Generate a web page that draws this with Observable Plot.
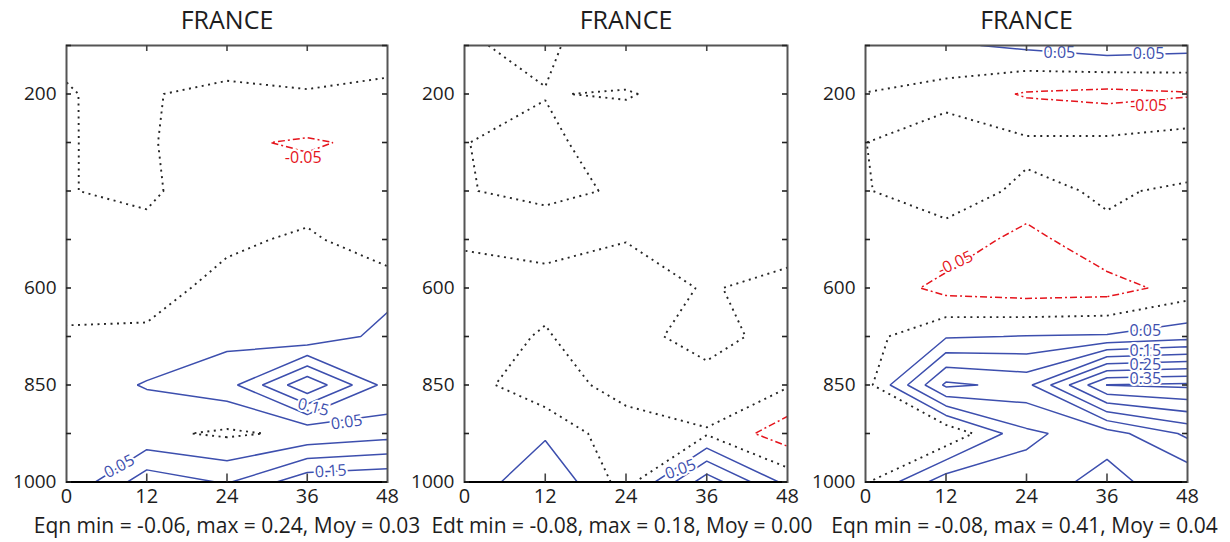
<!DOCTYPE html>
<html>
<head>
<meta charset="utf-8">
<script src="https://cdn.jsdelivr.net/npm/d3@7"></script>
<script src="https://cdn.jsdelivr.net/npm/@observablehq/plot@0.6"></script>
<style>
  html, body { margin: 0; padding: 0; background: #fff; }
  #chart { position: relative; width: 1230px; height: 542px; overflow: hidden; }
  #chart svg { position: absolute; top: 0; overflow: visible; }
</style>
</head>
<body>
<div id="chart"></div>
<script>
// ---------- data ----------
const pressureLevels = [100, 200, 300, 400, 500, 600, 700, 850, 925, 1000];
const labelledLevels = [200, 600, 850, 1000];
const leadHours = [0, 12, 24, 36, 48];
const innerHours = [12, 24, 36];
const panelTitles = ["FRANCE", "FRANCE", "FRANCE"];
const panelCaptions = [
  "Eqn min = -0.06, max = 0.24, Moy = 0.03",
  "Edt min = -0.08, max = 0.18, Moy = 0.00",
  "Eqn min = -0.08, max = 0.41, Moy = 0.04"
];
const positiveLevels = [0.05, 0.10, 0.15, 0.20, 0.25, 0.30, 0.35, 0.40];
const zeroLevel = [0];
const negativeLevels = [-0.05];

// rows: 100 ... 1000 hPa ; columns: 0, 12, 24, 36, 48 h
const fieldEqnLeft = [
  [0.0022, 0.03, 0.04, 0.045, 0.039],
  [-0.0007, 0.004, -0.015, -0.005, -0.02],
  [-0.0013, 0.0072, -0.044, -0.055, -0.0394],
  [-0.0009, 0.005, -0.019, -0.03, -0.01],
  [-0.02, -0.0082, -0.0117, 0.01, -0.037],
  [-0.0335, -0.0245, 0.02, 0.02, 0.03],
  [0.01, 0.01, 0.037, 0.01, 0.07],
  [0.02, 0.054, 0.079, 0.24, 0.08],
  [0.01, 0.01, -0.008, 0.01, 0.03],
  [0.005, 0.13, 0.095, 0.184, 0.195]
];
const fieldEdtMiddle = [
  [-0.0021, 0.005, -0.02, -0.02, -0.02],
  [-0.01, -0.0009, 0.002, -0.0113, -0.02],
  [-0.00045, 0.006, -0.0147, -0.02, -0.02],
  [-0.0012, 0.00587, -0.003, -0.02, -0.02],
  [-0.006, -0.0137, -0.00096, -0.02, -0.0133],
  [0.02, 0.0137, 0.015, -0.0024, 0.0096],
  [0.02, -0.0041, 0.0368, -0.0415, 0.045],
  [0.022, -0.0358, 0.028, 0.0415, 0.005],
  [0.02, 0.042, -0.0372, -0.006, -0.08],
  [0.01, 0.098, -0.023, 0.18, 0.034]
];
const fieldEqnRight = [
  [0.03, 0.0425, 0.06, 0.08, 0.07],
  [-0.001, -0.02, -0.055, -0.065, -0.055],
  [-0.0005, 0.0326, 0.0086, 0.01, 0.0228],
  [-0.0017, 0.017, -0.0073, 0.0036, -0.005],
  [-0.02, -0.0128, -0.071, -0.0054, -0.04],
  [-0.0128, -0.0675, -0.078, -0.073, -0.028],
  [-0.018, 0.045, 0.052, 0.055, 0.08],
  [-0.0205, 0.21, 0.185, 0.402, 0.41],
  [-0.03, -0.045, 0.09, 0.127, 0.21],
  [-0.0054, 0.13, 0.12, 0.17, 0.11]
];

// contour labels: hour, fractional level row, text, angle
const notesLeftPositive = [
  {hour: 36.9, row: 7.46, text: "0.15", angle: 14},
  {hour: 41.9, row: 7.77, text: "0.05", angle: -8},
  {hour: 7.9, row: 8.68, text: "0.05", angle: -28},
  {hour: 39.5, row: 8.78, text: "0.15", angle: -4}
];
const notesLeftNegative = [
  {hour: 35.4, row: 2.31, text: "-0.05", angle: 0}
];
const notesMiddlePositive = [
  {hour: 32.1, row: 8.74, text: "0.05", angle: -20}
];
const notesMiddleNegative = [];
const notesRightPositive = [
  {hour: 28.9, row: 0.16, text: "0.05", angle: 0},
  {hour: 42.2, row: 0.17, text: "0.05", angle: 0},
  {hour: 41.7, row: 5.88, text: "0.05", angle: 0},
  {hour: 41.7, row: 6.29, text: "0.15", angle: 0},
  {hour: 41.7, row: 6.58, text: "0.25", angle: 0},
  {hour: 41.7, row: 6.87, text: "0.35", angle: 0}
];
const notesRightNegative = [
  {hour: 42.2, row: 1.24, text: "-0.05", angle: 0},
  {hour: 13.4, row: 4.49, text: "-0.05", angle: -25}
];

// ---------- layout ----------
const H = 542, MT = 45, MB = 60.5;
const layout = [
  {left: 0, width: 410, marginLeft: 66, marginRight: 23, captionDx: 0},
  {left: 410, width: 410, marginLeft: 54, marginRight: 33, captionDx: -4},
  {left: 820, width: 410, marginLeft: 45, marginRight: 43, captionDx: -2}
];
const BLUE = "#3d4fae", RED = "#e5141c", DOTS = "#262626";

function drawPanel(field, title, caption, posNotes, negNotes, box) {
  const frameW = box.width - box.marginLeft - box.marginRight;
  const frameH = H - MT - MB;
  const values = field.flat();
  const rowIdx = pressureLevels.map((p, i) => i);
  const grid = {value: Plot.identity, width: leadHours.length, height: pressureLevels.length,
                x1: leadHours[0] - 6, x2: leadHours[leadHours.length - 1] + 6,
                y1: -0.5, y2: pressureLevels.length - 0.5, fill: "none", clip: true};
  const noteStyle = {x: "hour", y: "row", text: "text", rotate: "angle", fontSize: 16,
                     stroke: "white", strokeWidth: 4, paintOrder: "stroke"};
  const svg = Plot.plot({
    width: box.width, height: H,
    marginTop: MT, marginBottom: MB, marginLeft: box.marginLeft, marginRight: box.marginRight,
    style: {fontFamily: "'Open Sans', sans-serif", color: "#1d1d1d", background: "transparent", overflow: "visible"},
    x: {domain: [leadHours[0], leadHours[leadHours.length - 1]]},
    y: {domain: [0, pressureLevels.length - 1], reverse: true},
    marks: [
      Plot.contour(values, {...grid, thresholds: positiveLevels, stroke: BLUE, strokeWidth: 1.5}),
      Plot.contour(values, {...grid, thresholds: negativeLevels, stroke: RED, strokeWidth: 1.5, strokeDasharray: "7,3,2,3"}),
      Plot.contour(values, {...grid, thresholds: zeroLevel, stroke: DOTS, strokeWidth: 1.9, strokeDasharray: "2,4.5"}),
      Plot.text(posNotes, {...noteStyle, fill: BLUE}),
      Plot.text(negNotes, {...noteStyle, fill: RED}),
      Plot.frame({stroke: "#555", strokeWidth: 2}),
      Plot.ruleY([pressureLevels.length - 1], {stroke: "#000", strokeWidth: 2.2}),
      Plot.tickY(rowIdx, {y: d => d, insetRight: frameW - 5, stroke: "#222", strokeWidth: 1.6}),
      Plot.tickY(rowIdx, {y: d => d, insetLeft: frameW - 5, stroke: "#222", strokeWidth: 1.6}),
      Plot.tickX(innerHours, {x: d => d, insetBottom: frameH - 6, stroke: "#444", strokeWidth: 1.6}),
      Plot.tickX(innerHours, {x: d => d, insetTop: frameH - 8, stroke: "#444", strokeWidth: 1.6}),
      Plot.axisY(labelledLevels.map(p => pressureLevels.indexOf(p)),
                 {tickFormat: i => String(pressureLevels[i]), tickSize: 0, tickPadding: 10, fontSize: 19, label: null}),
      Plot.axisX(leadHours, {tickFormat: h => String(h), tickSize: 0, tickPadding: 7, fontSize: 20, label: null}),
      Plot.text([title], {text: d => d, frameAnchor: "top", lineAnchor: "bottom", dy: -17, fontSize: 25}),
      Plot.text([caption], {text: d => d, frameAnchor: "bottom", lineAnchor: "bottom", dy: 50.5, dx: box.captionDx, fontSize: 21})
    ]
  });
  svg.style.left = box.left + "px";
  document.getElementById("chart").append(svg);
}

drawPanel(fieldEqnLeft, panelTitles[0], panelCaptions[0], notesLeftPositive, notesLeftNegative, layout[0]);
drawPanel(fieldEdtMiddle, panelTitles[1], panelCaptions[1], notesMiddlePositive, notesMiddleNegative, layout[1]);
drawPanel(fieldEqnRight, panelTitles[2], panelCaptions[2], notesRightPositive, notesRightNegative, layout[2]);
</script>
</body>
</html>
